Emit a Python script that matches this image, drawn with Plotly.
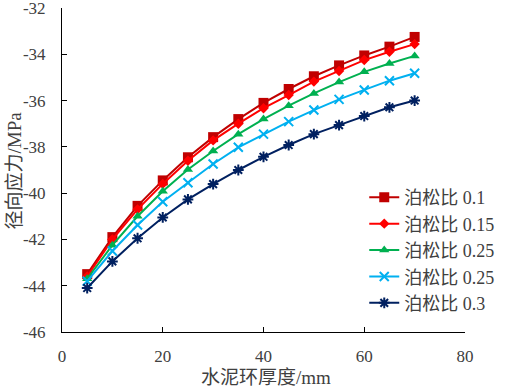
import plotly.graph_objects as go

thickness = [5, 10, 15, 20, 25, 30, 35, 40, 45, 50, 55, 60, 65, 70]
names = ["泊松比 0.1", "泊松比 0.15", "泊松比 0.25", "泊松比 0.25", "泊松比 0.3"]
s01 = [-43.5, -41.9, -40.55, -39.45, -38.45, -37.58, -36.8, -36.1, -35.5, -34.95, -34.48, -34.05, -33.67, -33.25]
s015 = [-43.6, -42.0, -40.7, -39.6, -38.6, -37.72, -37.0, -36.33, -35.76, -35.18, -34.72, -34.25, -33.89, -33.56]
s025a = [-43.7, -42.25, -41.0, -39.92, -38.98, -38.18, -37.45, -36.8, -36.22, -35.69, -35.2, -34.76, -34.4, -34.07]
s025b = [-43.8, -42.5, -41.38, -40.37, -39.55, -38.74, -38.02, -37.45, -36.91, -36.41, -35.95, -35.54, -35.14, -34.82]
s03 = [-44.1, -42.95, -41.95, -41.05, -40.27, -39.61, -39.0, -38.43, -37.92, -37.45, -37.06, -36.67, -36.29, -36.0]
xticks = [0, 20, 40, 60, 80]
yticks = [-46, -44, -42, -40, -38, -36, -34, -32]
yticklabels = ["-46", "-44", "-42", "-40", "-38", "-36", "-34", "-32"]
xtitle = "水泥环厚度/mm"
ytitle = "径向应力/MPa"

series = [s01, s015, s025a, s025b, s03]
colors = ["#C00000", "#FF0000", "#00B050", "#00B0F0", "#002060"]
symbols = ["square", "diamond", "triangle-up", "x-thin", "asterisk"]
sizes = [10, 8, 9, 9, 9]

FONT = "'Liberation Serif', 'Noto Sans CJK SC', serif"
TXT = "#404040"

fig = go.Figure()
for i, (ys, c, sym, sz, nm) in enumerate(zip(series, colors, symbols, sizes, names)):
    fig.add_trace(go.Scatter(
        x=thickness, y=ys, name=nm, mode="lines+markers",
        legendgroup=f"g{i}",
        line=dict(color=c, width=2),
        marker=dict(symbol=sym, size=sz, color=c, line=dict(color=c, width=2 if sym in ("x-thin", "asterisk") else 0)),
    ))

fig.update_layout(
    width=507, height=387,
    margin=dict(l=62, r=40, t=8, b=55),
    paper_bgcolor="white", plot_bgcolor="white",
    font=dict(family=FONT, size=17, color=TXT),
    showlegend=True,
    legend=dict(x=0.75, y=0.472, xanchor="left", yanchor="top",
                bgcolor="rgba(0,0,0,0)", tracegroupgap=0,
                font=dict(family=FONT, size=18, color=TXT),
                itemwidth=30),
    xaxis=dict(range=[0, 80], tickvals=xticks, showgrid=False, zeroline=False,
               automargin=False,
               showline=True, linecolor="black", linewidth=1,
               ticks="inside", ticklen=5, tickcolor="black",
               ticklabelstandoff=9,
               tickfont=dict(family=FONT, size=17, color=TXT)),
    yaxis=dict(range=[-46, -32], tickvals=yticks, ticktext=yticklabels,
               showgrid=False, zeroline=False, automargin=False,
               ticklabeloverflow="allow",
               showline=True, linecolor="black", linewidth=1,
               ticks="inside", ticklen=5, tickcolor="black",
               ticklabelstandoff=12,
               tickfont=dict(family=FONT, size=17, color=TXT)),
    annotations=[
        dict(text=xtitle, xref="paper", yref="paper", x=0.505, y=-0.139,
             xanchor="center", yanchor="middle", showarrow=False,
             font=dict(family=FONT, size=19, color=TXT)),
        dict(text=ytitle, xref="paper", yref="paper", x=-0.118, y=0.5,
             xanchor="center", yanchor="middle", showarrow=False, textangle=-90,
             font=dict(family=FONT, size=19, color=TXT)),
    ],
)

fig.write_html("out.html", config={"displayModeBar": False},
               post_script="document.body.style.margin='0';")
